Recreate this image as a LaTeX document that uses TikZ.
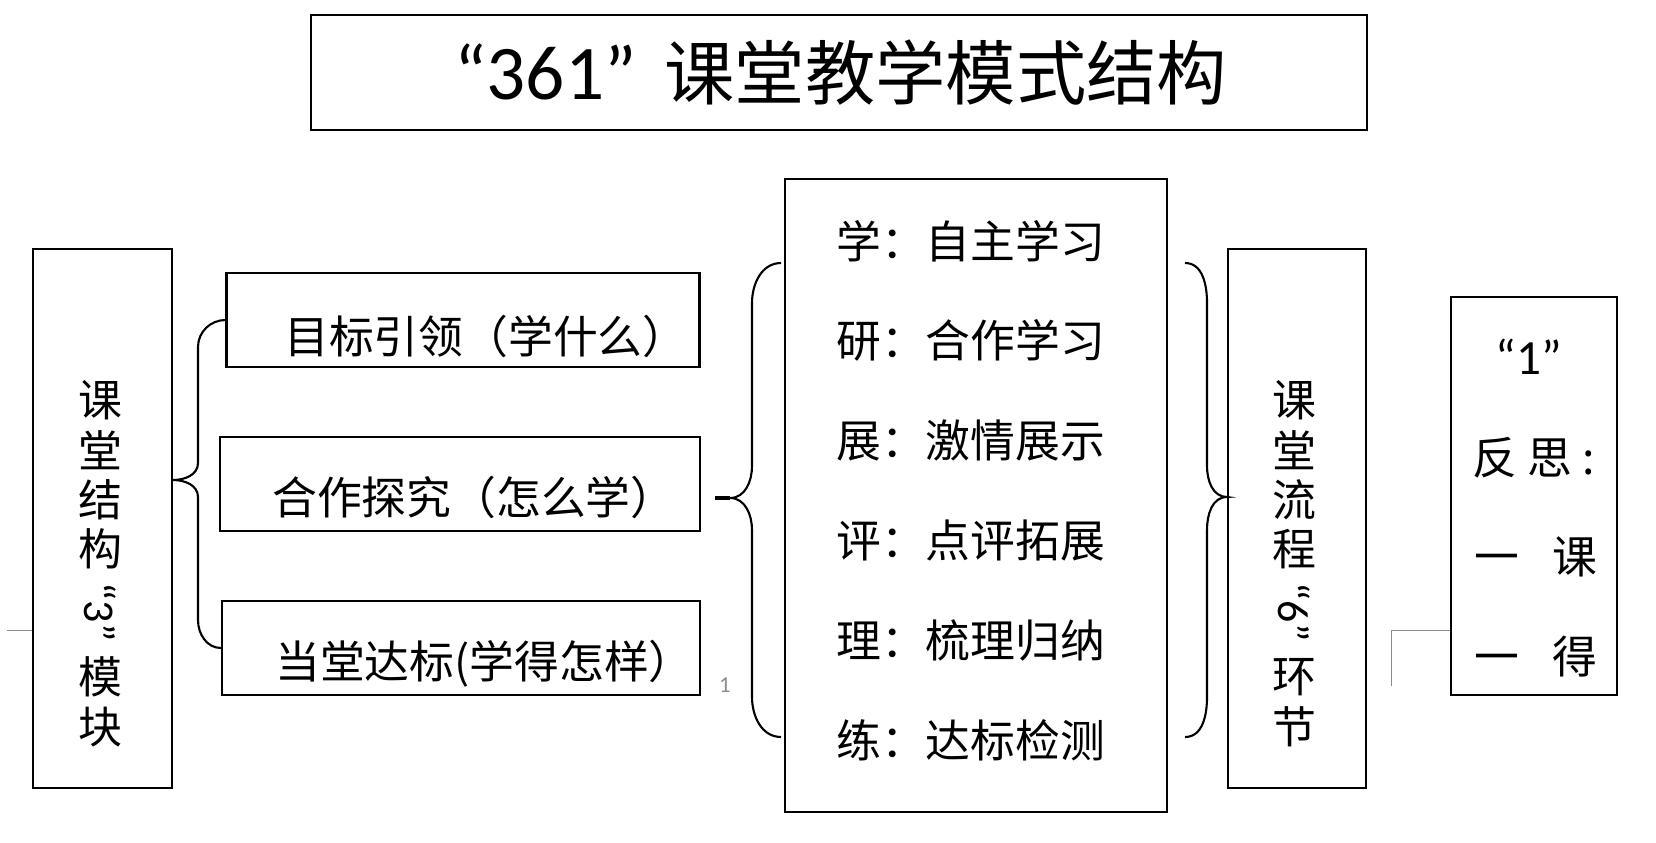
\documentclass[tikz,border=0pt]{standalone}
\usepackage{fontspec}
\usepackage{graphicx}
\setmainfont{Carlito}
\newfontfamily\cjk{Noto Sans CJK SC}
\newfontfamily\calfont{Carlito}
\usetikzlibrary{calc}
\tikzset{
  boxframe/.style={draw, line width=1.2pt, inner sep=0pt},
  boxtext/.style={font=\cjk\fontsize{25.5pt}{28pt}\selectfont, inner sep=0pt, anchor=west},
  steptext/.style={font=\cjk\fontsize{25.5pt}{30pt}\selectfont, inner sep=0pt, anchor=west},
  vchar/.style={font=\cjk\fontsize{25pt}{28pt}\selectfont, inner sep=0pt},
  brace/.style={line width=1.2pt},
  faint/.style={draw=black!45, line width=0.5pt}
}

\begin{document}
\begin{tikzpicture}[x=0.02cm, y=-0.02cm]
			\useasboundingbox (0,0) rectangle (1656,842);
			%%%%% START %%%%%
			
			\node[boxframe, minimum width=21.12cm, minimum height=2.3cm] (title) at (839,72.5) {};
			\node[anchor=west, inner sep=0pt] (title-text) at (454,73) {{\calfont\fontsize{44pt}{48pt}\selectfont “361”}\hspace{16pt}{\cjk\fontsize{40pt}{48pt}\selectfont 课堂教学模式结构}};
			
			% 3 modules
			\node[boxframe, minimum width=2.78cm, minimum height=10.78cm] (module) at (102.5,518.5) {};
			\foreach \ch/\y [count=\i] in {课/400, 堂/450, 结/500, 构/549, 模/677, 块/727}
				\node[vchar] (module-\i) at (100,\y) {\ch};
			\node[vchar] (module-q) at (100,612) {\rotatebox{-90}{\calfont “3”}};
			
			\node[boxframe, minimum width=9.46cm, minimum height=1.88cm] (goal) at (463,320) {};
			\node[boxtext] (goal-text) at (284,336) {目标引领（学什么）};
			\node[boxframe, minimum width=9.6cm, minimum height=1.88cm] (explore) at (460,484) {};
			\node[boxtext] (explore-text) at (272,497) {合作探究（怎么学）};
			\node[boxframe, minimum width=9.56cm, minimum height=1.88cm] (check) at (461,648) {};
			\node[boxtext] (check-text) at (275,664) {当堂达标(学得怎样）};
			
			\coordinate (ltip) at (module.east |- 0,480);
			\draw[brace] (goal.west) to[out=180,in=90] (198,347) -- (198,463) to[out=-90,in=0] (ltip)
				to[out=0,in=90] (198,497) -- (198,620) to[out=-90,in=180] (check.west);
			
			% 6 steps
			\node[boxframe, minimum width=7.64cm, minimum height=12.66cm] (steps) at (976,495.5) {};
			\foreach \t [count=\i] in {学：自主学习, 研：合作学习, 展：激情展示, 评：点评拓展, 理：梳理归纳, 练：达标检测}
				\node[steptext] (step-\i) at (836,{141+99.8*\i}) {\t};
			
			\coordinate (mtop) at (781,263);
			\coordinate (mbot) at (781,737);
			\coordinate (mtip) at (730,498);
			\coordinate (mstub) at (715,498);
			\draw[brace] (mtop) to[out=180,in=90] (752,303) -- (752,466) to[out=-90,in=0] (mtip)
				to[out=0,in=90] (752,530) -- (752,697) to[out=-90,in=180] (mbot);
			\draw[line width=2.6pt] (mstub) -- (mtip);
			
			\node[boxframe, minimum width=2.76cm, minimum height=10.78cm] (flow) at (1297,518.5) {};
			\foreach \ch/\y [count=\i] in {课/400, 堂/450, 流/500, 程/549, 环/677, 节/727}
				\node[vchar] (flow-\i) at (1294,\y) {\ch};
			\node[vchar] (flow-q) at (1294,612) {\rotatebox{-90}{\calfont “6”}};
			
			\coordinate (rtop) at (1185,263);
			\coordinate (rbot) at (1185,737);
			\coordinate (rtip) at (flow.west |- 0,497);
			\draw[brace] (rtop) to[out=0,in=90] (1207,303) -- (1207,466) to[out=-90,in=180] (rtip)
				to[out=180,in=90] (1207,530) -- (1207,697) to[out=-90,in=0] (rbot);
			
			% 1 reflection
			\node[boxframe, minimum width=3.32cm, minimum height=7.96cm] (reflect) at (1534,496) {};
			\node[font=\calfont\fontsize{28pt}{32pt}\selectfont, inner sep=0pt] (reflect-1) at (1529,357) {“1”};
			\node[boxtext] (reflect-2) at (1472,458) {反 思 :};
			\node[boxtext] (reflect-3) at (1474,557) {一\hspace{0.75em}课};
			\node[boxtext] (reflect-4) at (1474,657) {一\hspace{0.75em}得};
			
			% stray marks
			\coordinate (gl) at (7,630);
			\draw[faint] (gl) -- (gl -| module.west);
			\coordinate (gr) at (1391,630);
			\coordinate (grb) at (1391,686);
			\draw[faint] (grb) -- (gr) -- (gr -| reflect.west);
			\node[font=\calfont\fontsize{13pt}{15pt}\selectfont, text=black!45, inner sep=0pt] (pagenum) at (725,685) {1};
			
			%%%%% END %%%%%
		\end{tikzpicture}
\end{document}
